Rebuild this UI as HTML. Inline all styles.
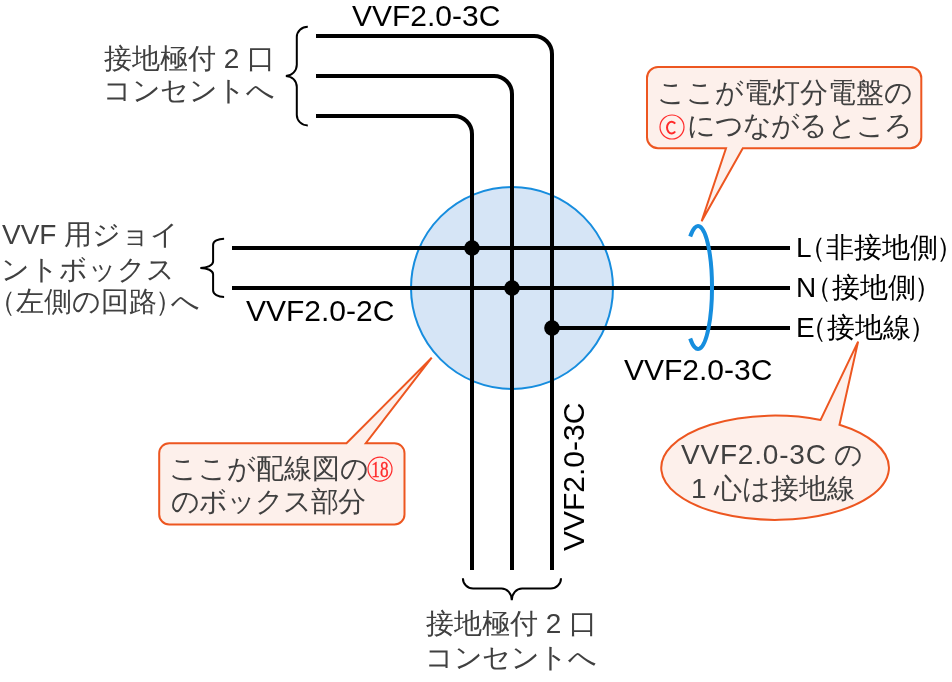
<!DOCTYPE html>
<html><head><meta charset="utf-8">
<style>
html,body{margin:0;padding:0;background:#fff;}
body{width:952px;height:682px;position:relative;overflow:hidden;font-family:"Liberation Sans",sans-serif;}
svg{position:absolute;left:0;top:0;will-change:transform;}
.t{position:absolute;will-change:transform;white-space:nowrap;font-size:28px;line-height:33.6px;color:#404040;}
.k{color:#000;}
.lat{font-size:30px;line-height:36px;color:#000;}
.r{color:#f02a2a;}
.po{margin-left:-14px;}
.pc{margin-left:-2px;margin-right:-12px;}
.sp{display:inline-block;width:28px;}
</style></head><body>
<svg width="952" height="682" viewBox="0 0 952 682">
  <!-- junction circle -->
  <circle cx="512" cy="288" r="101" fill="#d6e5f6" stroke="#178dde" stroke-width="2"/>
  <!-- wires -->
  <g fill="none" stroke="#000" stroke-width="4">
    <path d="M316,36 H534 A18,18 0 0 1 552,54 V570"/>
    <path d="M316,76 H494 A18,18 0 0 1 512,94 V570"/>
    <path d="M316,116 H454 A18,18 0 0 1 472,134 V570"/>
    <path d="M232,248 H790"/>
    <path d="M232,288 H790"/>
    <path d="M552,328 H790"/>
  </g>
  <g fill="#000">
    <circle cx="472" cy="248" r="7.8"/>
    <circle cx="512" cy="288" r="7.8"/>
    <circle cx="552" cy="328" r="7.8"/>
  </g>
  <!-- braces -->
  <g fill="none" stroke="#000" stroke-width="2">
    <path d="M307.8,26.8 A11,10.3 0 0 0 296.8,37.1 V64.8 A11,11.1 0 0 1 285.8,75.9 A11,11.1 0 0 1 296.8,87 V115 A11,10.4 0 0 0 307.8,125.4"/>
    <path d="M224.1,238.7 A11,6 0 0 0 213.1,244.7 V261.6 A12.8,6.3 0 0 1 200.3,267.9 A12.8,6.3 0 0 1 213.1,274.2 V290.6 A11,6.3 0 0 0 224.1,296.9"/>
    <path d="M462.9,578.2 A10.2,10.3 0 0 0 473.1,588.5 H501.5 A10.3,11.7 0 0 1 511.8,600.2 A10.3,11.7 0 0 1 522.1,588.5 H550.7 A10.3,10.3 0 0 0 561,578.2"/>
  </g>
  <!-- blue cable arc -->
  <path d="M690.2,236.5 A14,61.5 0 1 1 690.2,338.5" fill="none" stroke="#168ede" stroke-width="4"/>
  <!-- callouts -->
  <g fill="#fdf0eb" stroke="#ed5620" stroke-width="2" stroke-linejoin="miter">
    <path d="M658,67 H910.3 A11,11 0 0 1 921.3,78 V137.3 A11,11 0 0 1 910.3,148.3 H742.8 L701.6,221.2 L726,148.3 H658 A11,11 0 0 1 647,137.3 V78 A11,11 0 0 1 658,67 Z"/>
    <path d="M169.2,443.2 H346.5 L431.7,357.7 L365.8,443.2 H394.5 A10,10 0 0 1 404.5,453.2 V514.5 A10,10 0 0 1 394.5,524.5 H169.2 A10,10 0 0 1 159.2,514.5 V453.2 A10,10 0 0 1 169.2,443.2 Z"/>
    <path d="M839.5,424.73 A113.85,52.15 0 1 1 820.6,419.93 L858.1,341.6 Z"/>
  </g>
  <!-- circled marks -->
  <g fill="none" stroke="#ff2b2b" stroke-width="1.2">
    <circle cx="672" cy="127" r="12"/>
    <circle cx="380" cy="469.1" r="12"/>
  </g>
  <path d="M675.2,123.6 A4.7,5.9 0 1 0 675.2,131.5" fill="none" stroke="#ff2b2b" stroke-width="2"/>
  <text x="371.3" y="476.7" fill="#ff2b2b" stroke="#ff2b2b" stroke-width="0.35" font-family="Liberation Serif" font-size="22.6" textLength="17.2" lengthAdjust="spacingAndGlyphs">18</text>
</svg>

<!-- texts -->
<div class="t lat" style="left:352px;top:-2px;">VVF2.0-3C</div>
<div class="t" style="left:104px;top:42px;">接地極付 2 口</div>
<div class="t" style="left:103px;top:74px;letter-spacing:-0.4px;">コンセントへ</div>
<div class="t" style="left:657px;top:76px;">ここが電灯分電盤の</div>
<div class="t" style="left:659px;top:109px;letter-spacing:-0.9px;"><span class="sp"></span>につながるところ</div>
<div class="t k" style="left:796px;top:231px;">L<span class="po">（</span>非接地側<span class="pc">）</span></div>
<div class="t k" style="left:796px;top:271px;">N<span class="po" style="margin-left:-12.5px">（</span>接地側<span class="pc">）</span></div>
<div class="t k" style="left:796px;top:311px;">E<span class="po" style="margin-left:-15.5px">（</span>接地線<span class="pc">）</span></div>
<div class="t lat" style="left:624px;top:352px;">VVF2.0-3C</div>
<div class="t" style="left:681px;top:437.5px;"><span style="letter-spacing:0.8px">VVF2.0-3C</span> の</div>
<div class="t" style="left:691px;top:472px;">1 心は接地線</div>
<div class="t" style="left:2px;top:218px;">VVF 用ジョイ</div>
<div class="t" style="left:1px;top:253px;">ントボックス</div>
<div class="t" style="left:2px;top:285px;"><span class="po">（</span>左側の回路<span class="pc">）</span>へ</div>
<div class="t lat" style="left:246px;top:293px;">VVF2.0-2C</div>
<div class="t" style="left:169px;top:452px;">ここが配線図の</div>
<div class="t" style="left:171px;top:484.5px;letter-spacing:-1px;">のボックス部分</div>
<div class="t lat" style="left:555.5px;top:550.5px;transform-origin:0 0;transform:rotate(-90deg);">VVF2.0-3C</div>
<div class="t" style="left:426px;top:607px;">接地極付 2 口</div>
<div class="t" style="left:425px;top:641px;letter-spacing:-0.4px;">コンセントへ</div>
</body></html>
